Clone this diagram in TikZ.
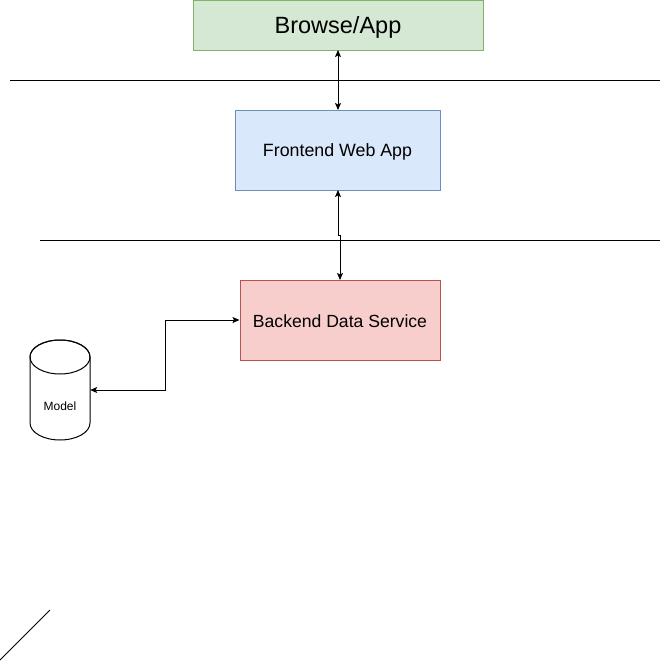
\documentclass[tikz,border=0pt]{standalone}
\usepackage{fontspec}
\setmainfont{Liberation Sans}
\usetikzlibrary{arrows.meta}
\definecolor{greenfill}{HTML}{D5E8D4}
\definecolor{greenline}{HTML}{82B366}
\definecolor{bluefill}{HTML}{DAE8FC}
\definecolor{blueline}{HTML}{6C8EBF}
\definecolor{redfill}{HTML}{F8CECC}
\definecolor{redline}{HTML}{B85450}
\tikzset{
  conn/.style={line width=1pt, {Stealth[length=7pt,width=6pt,inset=1.5pt]}-{Stealth[length=7pt,width=6pt,inset=1.5pt]}},
  sep/.style={line width=1pt},
}
\begin{document}
\begin{tikzpicture}[x=1pt,y=-1pt]
\useasboundingbox (0,0) rectangle (662,662);
\node[draw=greenline, fill=greenfill, line width=1pt, inner sep=0pt, minimum width=290pt, minimum height=50pt] (browse) at (338,25) {};
\node[font=\fontsize{23.5}{28}\selectfont, inner sep=0pt] (browsetext) at (338,27) {Browse/App};
\node[draw=blueline, fill=bluefill, line width=1pt, inner sep=0pt, minimum width=205pt, minimum height=80pt] (front) at (337.5,150) {};
\node[font=\fontsize{17.8}{21}\selectfont, inner sep=0pt] (fronttext) at (337.5,151.5) {Frontend Web App};
\node[draw=redline, fill=redfill, line width=1pt, inner sep=0pt, minimum width=200pt, minimum height=80pt] (back) at (340,320) {};
\node[font=\fontsize{17.6}{21}\selectfont, inner sep=0pt] (backtext) at (340,321) {Backend Data Service};
% separators
\coordinate (s1a) at (10,80); \coordinate (s1b) at (660,80);
\coordinate (s2a) at (40,240); \coordinate (s2b) at (660,240);
\draw[sep] (s1a) -- (s1b);
\draw[sep] (s2a) -- (s2b);
% cylinder
\draw[line width=1pt, fill=white] (30,357) -- (30,423) arc[start angle=180, end angle=0, x radius=30, y radius=17] -- (90,357) arc[start angle=0, end angle=-180, x radius=30, y radius=17] -- cycle;
\draw[line width=1pt] (60,357) ellipse[x radius=30, y radius=17];
\node[inner sep=0pt, minimum width=60pt, minimum height=100pt] (model) at (60,390) {};
\node[inner sep=0pt, font=\fontsize{12}{14}\selectfont] (modeltext) at (60,406) {Model};
% connectors
\coordinate (f1) at (338,50);
\coordinate (f2) at (338,110);
\draw[conn] (f1) -- (f2);
\coordinate (g1) at (338,190);
\coordinate (g2) at (340,280);
\draw[conn] (g1) -- (338,235) -- (340,235) -- (g2);
\draw[conn] (model.east) -- (165,390) -- (165,320) -- (back.west);
% diagonal line
\coordinate (d1) at (0,660); \coordinate (d2) at (50,610);
\draw[line width=1pt] (d1) -- (d2);
\end{tikzpicture}
\end{document}
